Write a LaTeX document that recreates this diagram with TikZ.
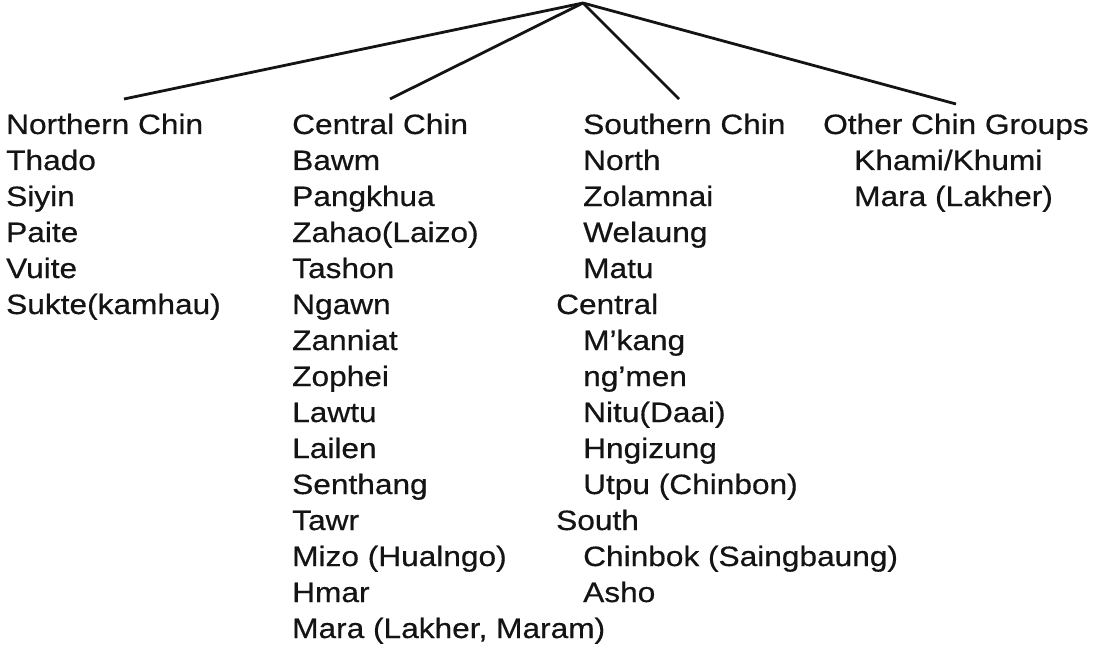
\documentclass[tikz,border=0pt]{standalone}
\usepackage{fontspec}
\setmainfont[FakeStretch=1.13,FakeBold=0.5]{Liberation Sans}

\begin{document}
\begin{tikzpicture}[x=1pt,y=-1pt]
                        \tikzstyle{lang}=[anchor=base west, inner sep=0pt, font=\fontsize{28}{34}\selectfont, text=black!92]
                        \tikzstyle{branch}=[line width=2.8pt, black!92]
                        \useasboundingbox (0,0) rectangle (1095,666);
                        \coordinate (root) at (583,3);
                        \coordinate (ncend) at (124,99);
                        \coordinate (ccend) at (390,99);
                        \coordinate (scend) at (679,99);
                        \coordinate (ocend) at (956,104);
                        \draw[branch] (root) -- (ncend);
                        \draw[branch] (root) -- (ccend);
                        \draw[branch] (root) -- (scend);
                        \draw[branch] (root) -- (ocend);
                        % Northern Chin
                        \node[lang] (nc) at (6,134) {Northern Chin};
                        \foreach \name [count=\i] in {Thado,Siyin,Paite,Vuite,Sukte(kamhau)}
                            \node[lang] (nc\i) at (6,134+36*\i) {\name};
                        % Central Chin
                        \node[lang] (cc) at (292,134) {Central Chin};
                        \foreach \name [count=\i] in {Bawm,Pangkhua,Zahao(Laizo),Tashon,Ngawn,Zanniat,Zophei,Lawtu,Lailen,Senthang,Tawr,{Mizo (Hualngo)},Hmar,{Mara (Lakher, Maram)}}
                            \node[lang] (cc\i) at (292,134+36*\i) {\name};
                        % Southern Chin
                        \node[lang] (sc) at (583,134) {Southern Chin};
                        \foreach \dx/\name [count=\i] in {27/North,27/Zolamnai,27/Welaung,27/Matu,0/Central,27/M’kang,27/ng’men,27/Nitu(Daai),27/Hngizung,27/{Utpu (Chinbon)},0/South,27/{Chinbok (Saingbaung)},27/Asho}
                            \node[lang] (sc\i) at (556+\dx,134+36*\i) {\name};
                        % Other Chin Groups
                        \node[lang] (oc) at (823,134) {Other Chin Groups};
                        \node[lang] (oc1) at (854,170) {Khami/Khumi};
                        \node[lang] (oc2) at (854,206) {Mara (Lakher)};
                    \end{tikzpicture}
\end{document}
